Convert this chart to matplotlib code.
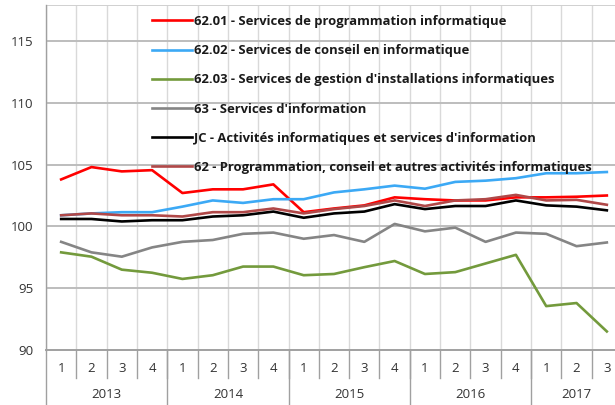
import matplotlib
matplotlib.use("Agg")
import matplotlib.pyplot as plt
import matplotlib.transforms as mtransforms

plt.rcParams['font.family'] = ['Open Sans', 'DejaVu Sans']

# Données trimestrielles 2013 T1 - 2017 T3
quarters = ["1", "2", "3", "4"] * 4 + ["1", "2", "3"]
years = ["2013", "2014", "2015", "2016", "2017"]

s6201 = [103.8, 104.8, 104.45, 104.55, 102.7, 103.0, 103.0, 103.4, 101.15,
         101.45, 101.7, 102.35, 102.2, 102.1, 102.1, 102.35, 102.35, 102.4, 102.5]
s6202 = [100.9, 101.05, 101.15, 101.15, 101.6, 102.1, 101.9, 102.2, 102.2,
         102.75, 103.0, 103.3, 103.05, 103.6, 103.7, 103.9, 104.3, 104.3, 104.4]
s6203 = [97.9, 97.55, 96.5, 96.25, 95.75, 96.05, 96.75, 96.75, 96.05,
         96.15, 96.7, 97.2, 96.15, 96.3, 97.0, 97.7, 93.55, 93.8, 91.5]
s63 = [98.75, 97.9, 97.55, 98.3, 98.75, 98.9, 99.4, 99.5, 99.0,
       99.3, 98.75, 100.2, 99.6, 99.9, 98.75, 99.5, 99.4, 98.4, 98.7]
sjc = [100.6, 100.6, 100.4, 100.5, 100.5, 100.8, 100.9, 101.2, 100.7,
       101.05, 101.2, 101.8, 101.4, 101.65, 101.65, 102.1, 101.7, 101.6, 101.3]
s62 = [100.9, 101.05, 100.9, 100.9, 100.8, 101.15, 101.15, 101.45, 101.05,
       101.4, 101.65, 102.1, 101.65, 102.1, 102.2, 102.55, 102.1, 102.15, 101.75]

labels = [
    "62.01 - Services de programmation informatique",
    "62.02 - Services de conseil en informatique",
    "62.03 - Services de gestion d'installations informatiques",
    "63 - Services d'information",
    "JC - Activités informatiques et services d'information",
    "62 - Programmation, conseil et autres activités informatiques",
]
series = [s6201, s6202, s6203, s63, sjc, s62]
colors = ["#ff0000", "#3ca9f5", "#739a3c", "#858585", "#000000", "#b04848"]

W, H = 615, 405
fig = plt.figure(figsize=(W / 100, H / 100), dpi=100)
x0, x1, ytop, ybot = 46, 622, 5, 350
ax = fig.add_axes([x0 / W, (H - ybot) / H, (x1 - x0) / W, (ybot - ytop) / H])

n = len(s6201)
xs = list(range(n))
ax.set_xlim(-0.5, n - 0.5)
ax.set_ylim(90, 90 + (ybot - ytop) / 12.36)

# grille
for k in range(n + 1):
    ax.axvline(k - 0.5, color="#d9d9d9", lw=1.0, zorder=0)
for v in [95, 100, 105, 110, 115]:
    ax.axhline(v, color="#bdbdbd", lw=1.4, zorder=0)
ax.axhline(ax.get_ylim()[1], color="#d0d0d0", lw=1.4, zorder=0)

for s, c, lab in zip(series, colors, labels):
    ax.plot(xs, s, color=c, lw=1.9, label=lab, zorder=3)

for sp in ["top", "right"]:
    ax.spines[sp].set_visible(False)
ax.spines["left"].set_color("#a0a0a0")
ax.spines["left"].set_linewidth(1.0)
ax.spines["bottom"].set_color("#a0a0a0")
ax.spines["bottom"].set_linewidth(1.4)

ax.set_yticks([90, 95, 100, 105, 110, 115])
ax.tick_params(axis="y", length=0, pad=9, labelsize=9.5, labelcolor="#333333")
ax.set_xticks([])

# axe des catégories à deux niveaux
trans = mtransforms.blended_transform_factory(ax.transData, ax.transAxes)
px = 1 / (ybot - ytop)
for k, q in enumerate(quarters):
    ax.text(k, -18 * px, q, transform=trans, ha="center", va="center",
            fontsize=9.5, color="#333333")
for k in range(1, n):
    ax.plot([k - 0.5, k - 0.5], [0, -28 * px], transform=trans, color="#a0a0a0",
            lw=1.0, clip_on=False)
ax.plot([-0.5, -0.5], [0, -60 * px], transform=trans, color="#a0a0a0",
        lw=1.0, clip_on=False)
for j, yr in enumerate(years):
    start = 4 * j - 0.5
    end = min(4 * j + 3.5, n - 0.5)
    ax.text((start + end) / 2, -45 * px, yr, transform=trans, ha="center",
            va="center", fontsize=9.5, color="#333333")
    if j > 0:
        ax.plot([start, start], [0, -60 * px], transform=trans, color="#a0a0a0",
                lw=1.0, clip_on=False)

leg = ax.legend(loc="upper left", bbox_to_anchor=((152 - x0) / (x1 - x0), 1 - 10 * px),
                frameon=False, prop={"weight": "bold", "size": 9.4},
                handlelength=3.05, handletextpad=0.15, labelspacing=1.24,
                borderaxespad=0, borderpad=0)
for t in leg.get_texts():
    t.set_color("#1a1a1a")

fig.savefig("out.png", dpi=100)
